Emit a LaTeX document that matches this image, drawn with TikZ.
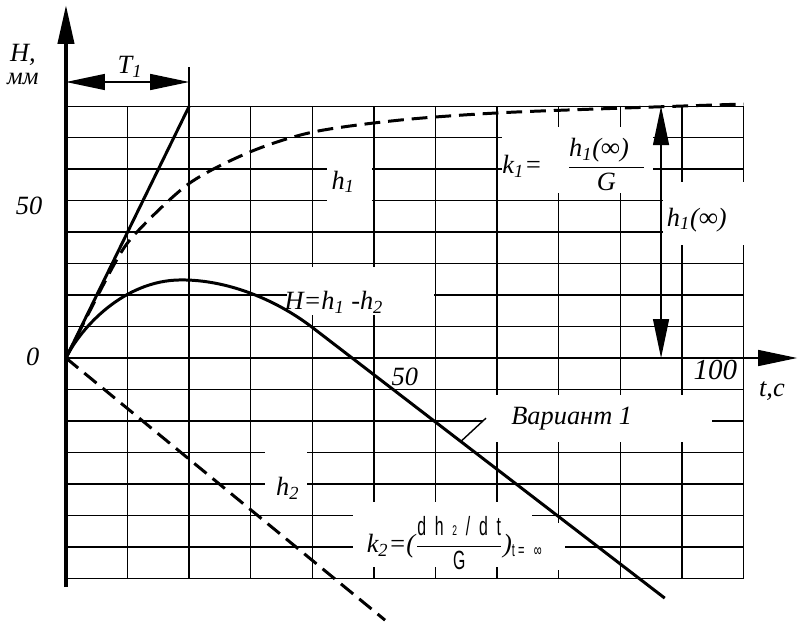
\documentclass[tikz,border=0pt]{standalone}
\usepackage{fontspec}
\setmainfont{Liberation Serif}
\setsansfont{Liberation Sans}
\usetikzlibrary{arrows.meta}

\newcommand{\ix}[2]{\textit{#1}\textsubscript{\textit{#2}}}
\newcommand{\nar}[1]{\scalebox{0.6}[1]{\sffamily\upshape #1}}

\tikzset{
  gridl/.style={line width=0.8pt},
  thinl/.style={line width=0.8pt},
  curve/.style={line width=1.7pt},
  dcurve/.style={curve,dash pattern=on 9pt off 4.5pt},
}

\begin{document}
\begin{tikzpicture}[x=1.232cm,y=0.6294cm,>={Triangle[length=0.78cm,width=0.32cm]},
  font=\itshape\fontsize{15}{18}\selectfont]
\useasboundingbox (-1.071,-8.452) rectangle (11.932,11.376);
% grid
\foreach \i in {0,...,11} \draw[gridl] (\i,-7) -- (\i,8);
\foreach \j in {-7,...,8} \draw[gridl] (0,\j) -- (11,\j);
% white patches under the labels
\foreach \a/\b/\c/\d in {4.24/4.54/4.97/6.93, 7.08/5.24/9.53/7.34,
    9.69/3.59/11.67/5.59, 3.59/1.37/5.97/2.89, 6.77/-2.67/10.49/-1.18,
    3.23/-4.87/3.91/-2.92, 4.66/-6.64/7.56/-4.58, 7.50/-6.74/8.10/-5.24}
  \fill[white] (\a,\b) rectangle (\c,\d);

\coordinate (O) at (0,0);
\coordinate (ybot) at (0,-7.28);
\coordinate (ytop) at (0,11.22);
\coordinate (xend) at (11.87,0);
\coordinate (tl) at (0,8.77);
\coordinate (tr) at (2,8.77);
\coordinate (tang) at (2,8);
\coordinate (ttick) at (2,9.25);
\coordinate (hinf) at (9.66,8);
\coordinate (hzero) at (9.66,0);
\coordinate (hend) at (5.18,-8.33);
\coordinate (foot) at (6.40,-2.67);

% labels
\node (Hlab) at (-0.70,9.63) {H,};
\node[font=\itshape\fontsize{14}{16}\selectfont] (mm) at (-0.70,8.88) {мм};
\node (Tone) at (1.04,9.25) {\ix{T}{1}};
\node (fifty) at (-0.60,4.83) {50};
\node (zero) at (-0.54,0.03) {0};
\node (hone) at (4.50,5.60) {\ix{h}{1}};
\node (kone) at (8.25,6.15) {\ix{k}{1}=\hspace{0.5cm}$\displaystyle\frac{\mbox{\ix{h}{1}(∞)\hspace{0.3cm}}}{\mbox{\textit{G}}}$};
\node (honeinf) at (10.24,4.39) {\ix{h}{1}(∞)};
\node (Heq) at (4.35,1.78) {H=\ix{h}{1} -\ix{h}{2}};
\node (tfifty) at (5.50,-0.60) {50};
\node[font=\itshape\fontsize{16.5}{19}\selectfont] (thund) at (10.54,-0.38) {100};
\node (tc) at (11.46,-1.05) {t,c};
\node[inner xsep=0.5cm] (var) at (8.21,-1.91) {Вариант 1};
\node (htwo) at (3.60,-4.13) {\ix{h}{2}};
\node (ktwo) at (6.31,-5.88) {\ix{k}{2}=($\displaystyle\frac{\mbox{\nar{d\ \ h\ \ {\footnotesize 2}\ \ /\ \ d\ \ t}}}{\mbox{\nar{G}}}$)\textsubscript{\nar{t =\ \ \ ∞}}};

% axes
\draw[thinl,->] (O) -- (xend);
\draw[line width=2.3pt,->] (ybot) -- (ytop);
\draw[thinl,<->] (tl) -- (tr);
\draw[thinl] (tang) -- (ttick);
\draw[thinl,<->] (hinf) -- (hzero);
\draw[thinl] (var.west) -- (foot);

% curves
\draw[curve] (O) -- (tang);
\draw[dcurve] plot[smooth] coordinates {(0,0) (0.795,3.02) (1.17,4.04) (2.01,5.56)
  (2.99,6.55) (4.01,7.18) (5.42,7.56) (7.03,7.79) (9.01,7.94) (11,8.07)};
\draw[curve] (O) .. controls (0.25,1.0) and (0.95,2.46) .. (1.85,2.48)
  .. controls (2.6,2.5) and (3.4,1.87) .. (4.0,0.97) -- (9.72,-7.63);
\draw[dcurve] (O) -- (hend);
\end{tikzpicture}
\end{document}
